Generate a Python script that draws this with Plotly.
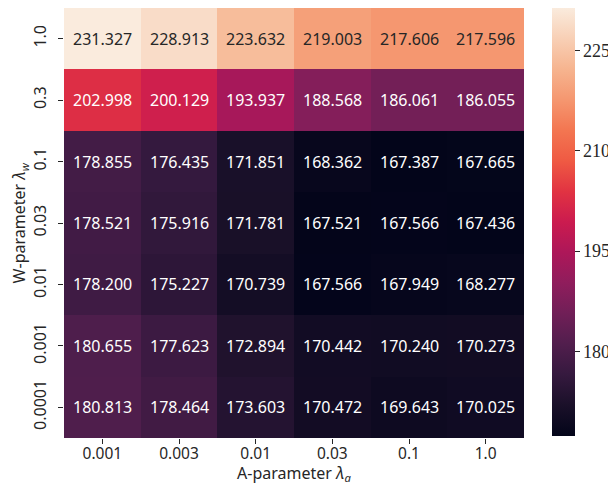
import plotly.graph_objects as go
from plotly.colors import sample_colorscale, unlabel_rgb

a_params = ["0.001", "0.003", "0.01", "0.03", "0.1", "1.0"]
w_params = ["1.0", "0.3", "0.1", "0.03", "0.01", "0.001", "0.0001"]

row_1_0 = [231.327, 228.913, 223.632, 219.003, 217.606, 217.596]
row_0_3 = [202.998, 200.129, 193.937, 188.568, 186.061, 186.055]
row_0_1 = [178.855, 176.435, 171.851, 168.362, 167.387, 167.665]
row_0_03 = [178.521, 175.916, 171.781, 167.521, 167.566, 167.436]
row_0_01 = [178.200, 175.227, 170.739, 167.566, 167.949, 168.277]
row_0_001 = [180.655, 177.623, 172.894, 170.442, 170.240, 170.273]
row_0_0001 = [180.813, 178.464, 173.603, 170.472, 169.643, 170.025]

z = [row_1_0, row_0_3, row_0_1, row_0_03, row_0_01, row_0_001, row_0_0001]

cb_ticks = [180, 195, 210, 225]

x_title = "A-parameter <i>λ<sub>a</sub></i>"
y_title = "W-parameter <i>λ<sub>w</sub></i>"

rocket = [
    [0.0, "#03051a"],
    [0.0714, "#1a1029"],
    [1 / 7, "#35193e"],
    [0.2143, "#511e4d"],
    [2 / 7, "#701f57"],
    [0.357, "#8f1d5c"],
    [3 / 7, "#ad1759"],
    [0.5, "#cb1b4f"],
    [4 / 7, "#e13342"],
    [0.643, "#ef5a43"],
    [5 / 7, "#f37651"],
    [0.786, "#f59770"],
    [6 / 7, "#f6b48f"],
    [0.93, "#f8d0b6"],
    [1.0, "#faebdd"],
]

flat = [v for r in z for v in r]
zmin, zmax = min(flat), max(flat)


def lum(rgb):
    out = []
    for c in rgb:
        c = c / 255.0
        out.append(c / 12.92 if c <= 0.03928 else ((c + 0.055) / 1.055) ** 2.4)
    return 0.2126 * out[0] + 0.7152 * out[1] + 0.0722 * out[2]


fig = go.Figure(
    go.Heatmap(
        z=z,
        x=a_params,
        y=w_params,
        zmin=zmin,
        zmax=zmax,
        colorscale=rocket,
        xgap=0,
        ygap=0,
        colorbar=dict(
            tickvals=cb_ticks,
            ticks="outside",
            ticklen=5,
            tickwidth=1,
            tickcolor="#262626",
            outlinewidth=0,
            thickness=23,
            len=0.995,
            lenmode="fraction",
            y=1,
            yanchor="top",
            ypad=0,
            x=1.061,
            xanchor="left",
            xpad=0,
            tickfont=dict(family="Liberation Serif", size=18, color="#262626"),
        ),
    )
)

annotations = []
for i, w in enumerate(w_params):
    for j, a in enumerate(a_params):
        v = z[i][j]
        t = (v - zmin) / (zmax - zmin)
        col = sample_colorscale(rocket, [t])[0]
        rgb = unlabel_rgb(col) if col.startswith("rgb") else None
        color = "#262626" if rgb and lum(rgb) > 0.408 else "white"
        annotations.append(
            dict(
                x=j,
                y=i,
                xref="x",
                yref="y",
                text=f"{v:.3f}",
                showarrow=False,
                font=dict(family="Noto Sans", size=16, color=color),
            )
        )

annotations.append(
    dict(
        x=0.5, y=-0.083, xref="paper", yref="paper", xanchor="center", yanchor="middle",
        text=x_title, showarrow=False, font=dict(family="Noto Sans", size=16, color="#262626"),
    )
)
annotations.append(
    dict(
        x=-0.097, y=0.5, xref="paper", yref="paper", xanchor="center", yanchor="middle",
        textangle=-90, text=y_title, showarrow=False,
        font=dict(family="Noto Sans", size=16, color="#262626"),
    )
)

fig.update_layout(
    width=608,
    height=479,
    margin=dict(l=56, r=92, t=0, b=49, autoexpand=False),
    paper_bgcolor="white",
    plot_bgcolor="white",
    annotations=annotations,
    font=dict(family="Noto Sans", size=16, color="#262626"),
    xaxis=dict(
        ticks="outside",
        ticklen=5,
        tickcolor="#262626",
        showgrid=False,
        zeroline=False,
        automargin=False,
        ticklabelstandoff=-4,
        tickfont=dict(size=15.5),
    ),
    yaxis=dict(
        ticks="outside",
        ticklen=5,
        tickcolor="#262626",
        showgrid=False,
        zeroline=False,
        automargin=False,
        tickangle=-90,
        ticklabelstandoff=6,
        autorange="reversed",
        tickfont=dict(size=16),
    ),
)

fig.write_html("out.html")
